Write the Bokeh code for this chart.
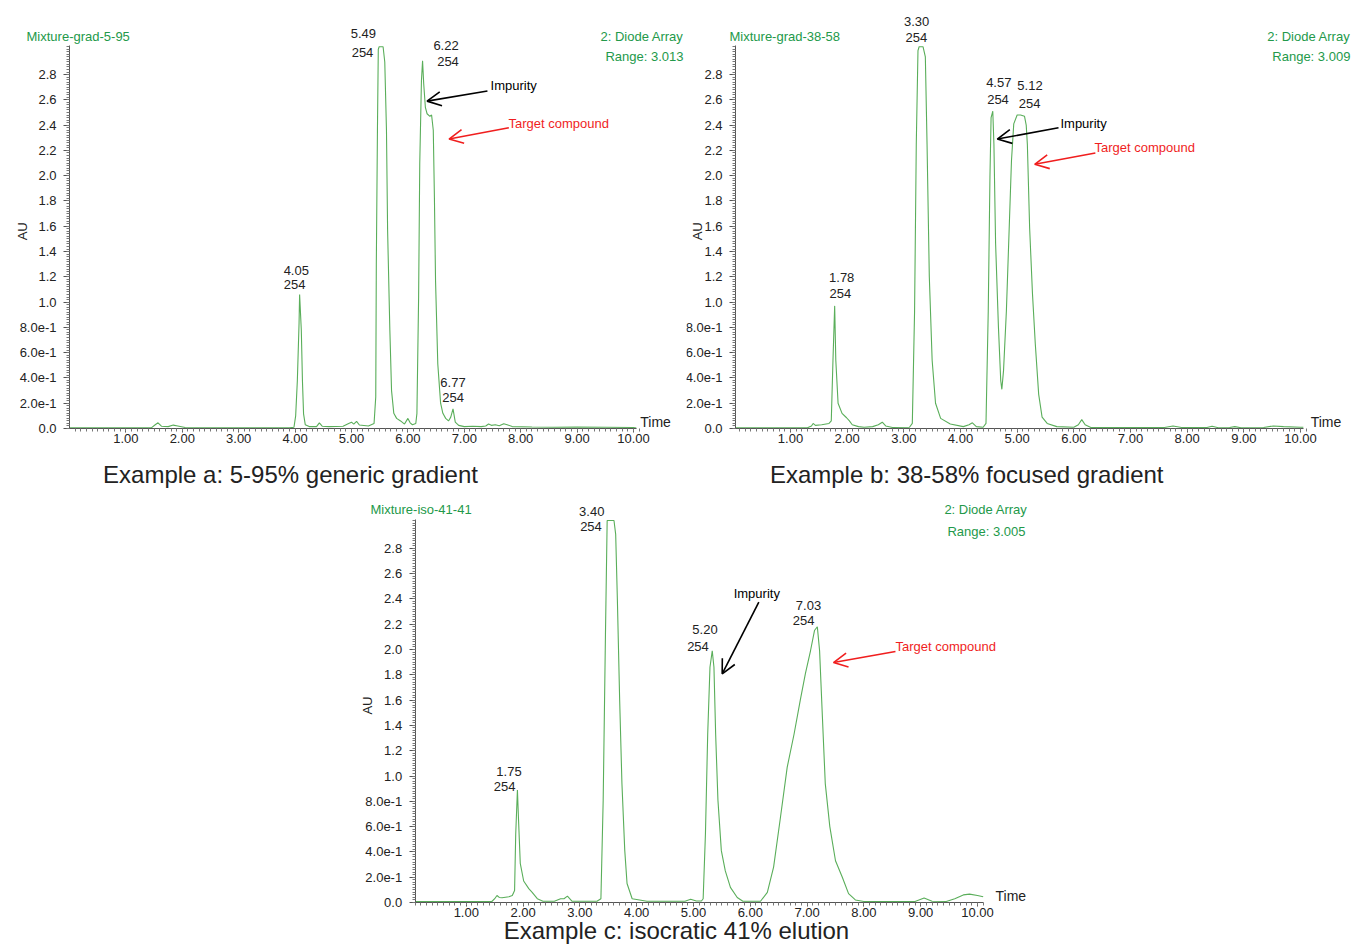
from bokeh.plotting import figure
from bokeh.models import Range1d, FixedTicker, Label, Arrow, OpenHead, Spacer
from bokeh.layouts import column, row
from bokeh.embed import file_html
from bokeh.resources import INLINE

# ---------------- data ----------------
a_time = [0.0, 1.45, 1.52, 1.57, 1.63, 1.75, 1.84, 1.92, 2.05, 2.15, 3.9, 3.98, 4.01, 4.04, 4.07, 4.08,
          4.11, 4.13, 4.15, 4.18, 4.25, 4.38, 4.43, 4.48, 4.6, 4.85, 4.95, 5.0, 5.04, 5.09, 5.14, 5.3,
          5.40, 5.43, 5.44, 5.46, 5.475, 5.49, 5.56, 5.59, 5.62, 5.64, 5.68, 5.71, 5.75, 5.80, 5.87, 5.94,
          6.0, 6.04, 6.08, 6.14, 6.16, 6.19, 6.21, 6.24, 6.26, 6.28, 6.31, 6.34, 6.39, 6.42, 6.45, 6.47,
          6.49, 6.53, 6.58, 6.62, 6.67, 6.72, 6.76, 6.80, 6.84, 6.90, 7.0, 7.15, 7.3, 7.38, 7.43, 7.48,
          7.55, 7.62, 7.70, 7.76, 7.85, 8.2, 8.6, 9.0, 9.5, 10.0, 10.05]
a_au = [0.005, 0.005, 0.03, 0.045, 0.018, 0.015, 0.027, 0.02, 0.008, 0.005, 0.005, 0.01, 0.1, 0.38, 0.83, 1.06,
        0.78, 0.38, 0.116, 0.03, 0.015, 0.015, 0.045, 0.018, 0.015, 0.018, 0.04, 0.05, 0.035, 0.057, 0.028, 0.02,
        0.04, 0.25, 1.3, 2.36, 3.0, 3.02, 3.02, 2.9, 2.36, 1.57, 0.78, 0.30, 0.12, 0.08, 0.06, 0.035,
        0.08, 0.045, 0.03, 0.04, 0.12, 1.04, 2.09, 2.75, 2.91, 2.73, 2.54, 2.49, 2.47, 2.48, 2.36, 1.83,
        1.17, 0.51, 0.2, 0.12, 0.08, 0.06, 0.09, 0.155, 0.05, 0.025, 0.015, 0.018, 0.015, 0.02, 0.035, 0.025,
        0.03, 0.022, 0.038, 0.03, 0.015, 0.012, 0.01, 0.012, 0.01, 0.008, 0.004]

b_time = [0.03, 1.3, 1.37, 1.40, 1.44, 1.55, 1.68, 1.72, 1.75, 1.78, 1.80, 1.84, 1.91, 1.99, 2.04, 2.09,
          2.2, 2.3, 2.45, 2.55, 2.62, 2.68, 2.8, 3.1, 3.15, 3.19, 3.22, 3.25, 3.27, 3.34, 3.38, 3.41,
          3.45, 3.50, 3.56, 3.65, 3.82, 4.05, 4.15, 4.21, 4.28, 4.40, 4.45, 4.49, 4.52, 4.54, 4.57, 4.59,
          4.62, 4.67, 4.71, 4.73, 4.76, 4.81, 4.86, 4.90, 4.94, 5.00, 5.06, 5.13, 5.16, 5.18, 5.22, 5.27,
          5.32, 5.38, 5.44, 5.53, 5.7, 6.0, 6.08, 6.14, 6.20, 6.3, 7.6, 7.75, 7.9, 8.35, 8.44, 8.55,
          8.75, 8.84, 8.95, 9.35, 9.52, 9.7, 10.0, 10.05]
b_au = [0.005, 0.005, 0.02, 0.04, 0.025, 0.03, 0.04, 0.06, 0.54, 0.97, 0.54, 0.2, 0.12, 0.085, 0.06, 0.03,
        0.015, 0.01, 0.015, 0.03, 0.05, 0.02, 0.008, 0.01, 0.04, 0.93, 2.25, 2.99, 3.02, 3.02, 2.94, 2.25,
        1.2, 0.54, 0.2, 0.08, 0.035, 0.015, 0.03, 0.045, 0.015, 0.01, 0.04, 0.93, 1.99, 2.46, 2.51, 2.25,
        1.46, 0.8, 0.38, 0.31, 0.46, 0.93, 1.59, 2.12, 2.41, 2.48, 2.48, 2.47, 2.4, 2.25, 1.59, 1.07,
        0.67, 0.27, 0.09, 0.04, 0.015, 0.01, 0.03, 0.07, 0.03, 0.008, 0.008, 0.02, 0.008, 0.008, 0.018, 0.006,
        0.008, 0.015, 0.006, 0.008, 0.02, 0.015, 0.01, 0.01]

c_time = [0.1, 1.45, 1.50, 1.54, 1.58, 1.63, 1.75, 1.81, 1.85, 1.87, 1.90, 1.92, 1.95, 2.01, 2.10, 2.16,
          2.25, 2.35, 2.55, 2.66, 2.72, 2.78, 2.86, 3.3, 3.37, 3.41, 3.45, 3.48, 3.60, 3.63, 3.66, 3.70,
          3.74, 3.79, 3.83, 3.92, 4.18, 4.85, 4.95, 5.05, 5.14, 5.17, 5.21, 5.25, 5.29, 5.33, 5.36, 5.39,
          5.43, 5.49, 5.56, 5.65, 5.77, 5.87, 6.18, 6.30, 6.41, 6.53, 6.65, 6.77, 6.88, 6.97, 7.06, 7.13,
          7.18, 7.22, 7.27, 7.32, 7.40, 7.50, 7.62, 7.73, 7.85, 8.0, 8.9, 9.06, 9.2, 9.45, 9.6, 9.75,
          9.86, 10.0, 10.1]
c_au = [0.008, 0.008, 0.03, 0.055, 0.04, 0.037, 0.045, 0.055, 0.095, 0.54, 0.89, 0.65, 0.31, 0.17, 0.11, 0.08,
        0.03, 0.01, 0.01, 0.03, 0.03, 0.05, 0.01, 0.01, 0.03, 0.81, 2.12, 3.02, 3.02, 2.91, 2.39, 1.6,
        0.94, 0.41, 0.15, 0.03, 0.01, 0.01, 0.025, 0.012, 0.012, 0.03, 0.54, 1.33, 1.86, 1.99, 1.86, 1.33,
        0.81, 0.41, 0.25, 0.12, 0.04, 0.01, 0.01, 0.08, 0.28, 0.67, 1.07, 1.33, 1.6, 1.81, 1.99, 2.15,
        2.18, 1.99, 1.46, 0.94, 0.6, 0.33, 0.2, 0.07, 0.02, 0.008, 0.008, 0.035, 0.01, 0.008, 0.03, 0.06,
        0.066, 0.055, 0.045]

x_ticks = [1, 2, 3, 4, 5, 6, 7, 8, 9, 10]
x_tick_labels = ["1.00", "2.00", "3.00", "4.00", "5.00", "6.00", "7.00", "8.00", "9.00", "10.00"]
y_ticks = [0.0, 0.2, 0.4, 0.6, 0.8, 1.0, 1.2, 1.4, 1.6, 1.8, 2.0, 2.2, 2.4, 2.6, 2.8]
y_tick_labels = ["0.0", "2.0e-1", "4.0e-1", "6.0e-1", "8.0e-1", "1.0", "1.2", "1.4", "1.6", "1.8",
                 "2.0", "2.2", "2.4", "2.6", "2.8"]

# peak labels: (retention-time text, wavelength text)
a_peaks = ["4.05", "5.49", "6.22", "6.77"]
b_peaks = ["1.78", "3.30", "4.57", "5.12"]
c_peaks = ["1.75", "3.40", "5.20", "7.03"]
wavelength = "254"

titles = ["Mixture-grad-5-95", "Mixture-grad-38-58", "Mixture-iso-41-41"]
ranges = ["Range: 3.013", "Range: 3.009", "Range: 3.005"]
captions = ["Example a: 5-95% generic gradient", "Example b: 38-58% focused gradient",
            "Example c: isocratic 41% elution"]

FONT = "Liberation Sans"
GREEN_TXT = "#23994a"
TRACE = "#5aae5a"
RED = "#f01e1e"
AXIS = "#555555"
TXT = "#222222"
Y_TOP = 3.03

x_minor = [round(k * 0.1, 1) for k in range(1, 102)]
y_minor = [round(k * 0.02, 2) for k in range(0, 152)]


def make_panel(cx0, cx1, cy0, cy1, px_x0, sx, px_y0, sy, x_lo, x_hi):
    """Canvas covers page pixels [cx0,cx1] x [cy0,cy1]; data t=0 at page px_x0 (sx px/unit),
    AU=0 at page px_y0 (sy px/unit). Axes are pinned inside the frame."""
    xr = Range1d((cx0 - px_x0) / sx, (cx1 - px_x0) / sx)
    yr = Range1d((px_y0 - cy1) / sy, (px_y0 - cy0) / sy)
    p = figure(width=cx1 - cx0, height=cy1 - cy0, x_range=xr, y_range=yr,
               output_backend="svg", toolbar_location=None, min_border=0,
               min_border_left=0, min_border_right=0, min_border_top=0, min_border_bottom=0)
    p.grid.visible = False
    p.outline_line_color = None
    p.background_fill_color = "white"
    p.border_fill_color = "white"
    p.xaxis.ticker = FixedTicker(ticks=x_ticks, minor_ticks=x_minor)
    p.xaxis.major_label_overrides = {t: l for t, l in zip(x_ticks, x_tick_labels)}
    p.yaxis.ticker = FixedTicker(ticks=y_ticks, minor_ticks=y_minor)
    p.yaxis.major_label_overrides = {t: l for t, l in zip(y_ticks, y_tick_labels)}
    p.xaxis.fixed_location = 0
    p.yaxis.fixed_location = x_lo
    p.xaxis.bounds = (x_lo, x_hi)
    p.yaxis.bounds = (0, Y_TOP)
    for ax in (p.xaxis, p.yaxis):
        ax.axis_line_color = AXIS
        ax.major_tick_line_color = AXIS
        ax.minor_tick_line_color = "#777777"
        ax.major_tick_in = 0
        ax.minor_tick_in = 0
        ax.major_label_text_font = FONT
        ax.major_label_text_font_size = "13px"
        ax.major_label_text_color = TXT
    p.xaxis.major_tick_out = 4
    p.xaxis.minor_tick_out = 3
    p.xaxis.major_label_standoff = 1
    p.yaxis.major_tick_out = 6
    p.yaxis.minor_tick_out = 3
    p.yaxis.major_label_standoff = 7
    return p


def lab(p, x, y, text, color=TXT, size="13px", align="center", baseline="middle", angle=0):
    p.add_layout(Label(x=x, y=y, text=text, text_color=color, text_font=FONT, text_font_size=size,
                       text_align=align, text_baseline=baseline, angle=angle))


def arrow(p, x0, y0, x1, y1, color):
    p.add_layout(Arrow(x_start=x0, y_start=y0, x_end=x1, y_end=y1, line_color=color, line_width=1.6,
                       end=OpenHead(size=14, line_color=color, line_width=1.6)))


# ---------------- panel a ----------------
pa = make_panel(0, 686, 0, 490, 69.0, 56.4, 428.0, 126.4, 0.0, 10.05)
pa.line(a_time, a_au, line_color=TRACE, line_width=1.1)
lab(pa, -0.762, 3.10, titles[0], GREEN_TXT, align="left")
lab(pa, 10.887, 3.10, "2: Diode Array", GREEN_TXT, align="right")
lab(pa, 10.887, 2.943, ranges[0], GREEN_TXT, align="right")
lab(pa, -0.833, 1.56, "AU", angle=1.5708)
lab(pa, 10.12, 0.055, "Time", size="14px", align="left")
lab(pa, 3.918, -0.364, captions[0], TXT, size="24px")
for (tx, ty, wx, wy), txt in zip([(4.021, 1.25, 3.99, 1.139), (5.21, 3.125, 5.195, 2.975),
                                  (6.676, 3.03, 6.711, 2.906), (6.80, 0.362, 6.80, 0.243)], a_peaks):
    lab(pa, tx, ty, txt)
    lab(pa, wx, wy, wavelength)
arrow(pa, 7.41, 2.67, 6.34, 2.59, "black")
lab(pa, 7.465, 2.714, "Impurity", "black", align="left")
arrow(pa, 7.79, 2.38, 6.73, 2.29, RED)
lab(pa, 7.784, 2.413, "Target compound", RED, align="left")

# ---------------- panel b ----------------
pb = make_panel(686, 1351, 0, 490, 733.3, 56.67, 428.0, 126.4, 0.03, 10.05)
pb.line(b_time, b_au, line_color=TRACE, line_width=1.1)
lab(pb, -0.076, 3.10, titles[1], GREEN_TXT, align="left")
lab(pb, 10.88, 3.10, "2: Diode Array", GREEN_TXT, align="right")
lab(pb, 10.88, 2.943, ranges[1], GREEN_TXT, align="right")
lab(pb, -0.641, 1.56, "AU", angle=1.5708)
lab(pb, 10.18, 0.055, "Time", size="14px", align="left")
lab(pb, 4.11, -0.364, captions[1], TXT, size="24px")
for (tx, ty, wx, wy), txt in zip([(1.904, 1.197, 1.882, 1.066), (3.227, 3.222, 3.220, 3.091),
                                  (4.676, 2.740, 4.662, 2.600), (5.227, 2.714, 5.221, 2.574)], b_peaks):
    lab(pb, tx, ty, txt)
    lab(pb, wx, wy, wavelength)
arrow(pb, 5.73, 2.38, 4.65, 2.29, "black")
lab(pb, 5.764, 2.413, "Impurity", "black", align="left")
arrow(pb, 6.38, 2.18, 5.31, 2.09, RED)
lab(pb, 6.364, 2.223, "Target compound", RED, align="left")

# ---------------- panel c ----------------
pc = make_panel(340, 1035, 490, 947, 409.0, 56.8, 902.0, 126.5, 0.1, 10.1)
pc.line(c_time, c_au, line_color=TRACE, line_width=1.1)
lab(pc, -0.687, 3.107, titles[2], GREEN_TXT, align="left")
lab(pc, 10.88, 3.107, "2: Diode Array", GREEN_TXT, align="right")
lab(pc, 10.845, 2.933, ranges[2], GREEN_TXT, align="right")
lab(pc, -0.739, 1.557, "AU", angle=1.5708)
lab(pc, 10.317, 0.055, "Time", size="14px", align="left")
lab(pc, 4.70, -0.222, captions[2], TXT, size="24px")
for (tx, ty, wx, wy), txt in zip([(1.752, 1.038, 1.676, 0.919), (3.208, 3.093, 3.195, 2.972),
                                  (5.202, 2.158, 5.079, 2.026), (7.025, 2.348, 6.940, 2.229)], c_peaks):
    lab(pc, tx, ty, txt)
    lab(pc, wx, wy, wavelength)
arrow(pc, 6.15, 2.374, 5.505, 1.808, "black")
lab(pc, 6.114, 2.44, "Impurity", "black")
arrow(pc, 8.556, 1.984, 7.465, 1.897, RED)
lab(pc, 8.556, 2.024, "Target compound", RED, align="left")

layout = column(row(pa, pb), row(Spacer(width=340, height=10), pc))

open("out.html", "w").write(file_html(layout, INLINE))
